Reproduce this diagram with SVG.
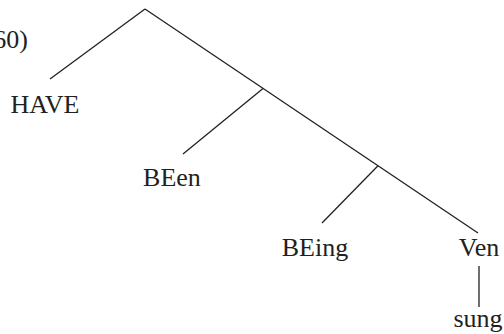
<svg xmlns="http://www.w3.org/2000/svg" width="504" height="334" viewBox="0 0 504 334">
<style>
text{font-family:"Liberation Serif","Times New Roman",serif;font-size:26px;fill:#231f20;text-anchor:middle}
line{stroke:#231f20;stroke-width:1.3}
</style>
<rect width="504" height="334" fill="#fff"/>
<text x="28" y="48" style="text-anchor:end">(60)</text>
<g id="connectors">
<line x1="145" y1="9" x2="50" y2="79"/>
<line x1="145" y1="9" x2="478" y2="233"/>
<line x1="263" y1="88.4" x2="183" y2="154"/>
<line x1="378" y1="165.8" x2="322" y2="223"/>
<line x1="479" y1="266" x2="479" y2="307"/>
</g>
<g id="have"><text x="45" y="113">HAVE</text></g>
<g id="been"><text x="172" y="186">BEen</text></g>
<g id="being"><text x="315" y="256">BEing</text></g>
<g id="ven"><text x="479" y="256">Ven</text></g>
<g id="sung"><text x="478" y="327">sung</text></g>
</svg>
